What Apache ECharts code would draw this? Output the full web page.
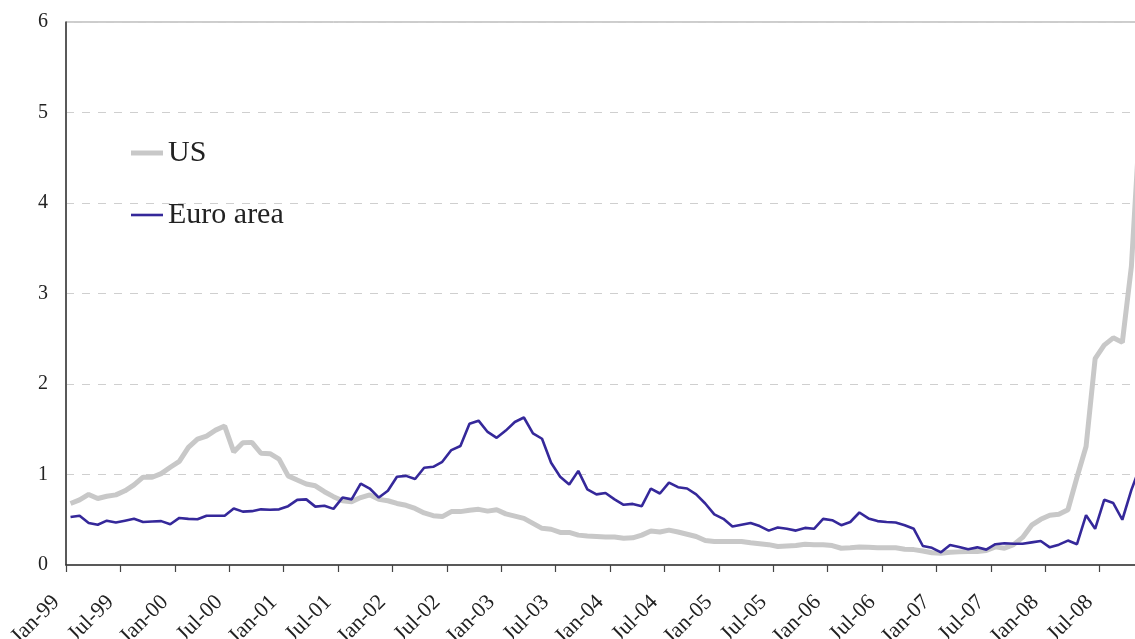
<!DOCTYPE html>
<html>
<head>
<meta charset="utf-8">
<script src="https://cdn.jsdelivr.net/npm/echarts@6/dist/echarts.min.js"></script>
<style>
html,body{margin:0;padding:0;background:#fff;overflow:hidden;}
#chart{width:1135px;height:639px;}
</style>
</head>
<body>
<div id="chart"></div>
<script>
const monthNames = ['Jan','Feb','Mar','Apr','May','Jun','Jul','Aug','Sep','Oct','Nov','Dec'];
function monthLabel(k){ return monthNames[k % 12] + '-' + String((99 + Math.floor(k / 12)) % 100).padStart(2, '0'); }

// Monthly categories Jan-99 .. Nov-08 (data points sit between tick marks)
const categories = [];
for (let k = 0; k < 119; k++) categories.push(monthLabel(k));
// Tick labels sit on the month boundaries
const tickLabels = [];
for (let k = 0; k < 120; k++) tickLabels.push(monthLabel(k));

const yTicks = [0, 1, 2, 3, 4, 5, 6];

const usValues = [
0.68,0.72,0.78,0.735,0.76,0.775,0.82,0.885,0.97,0.97,1.01,1.08,
1.145,1.30,1.39,1.425,1.49,1.535,1.25,1.35,1.355,1.235,1.23,1.17,
0.985,0.94,0.895,0.875,0.81,0.755,0.71,0.70,0.745,0.775,0.725,0.71,
0.68,0.66,0.625,0.575,0.545,0.535,0.59,0.59,0.605,0.615,0.595,0.61,
0.565,0.54,0.515,0.46,0.405,0.395,0.36,0.36,0.33,0.32,0.315,0.31,
0.31,0.295,0.30,0.33,0.375,0.365,0.385,0.365,0.34,0.315,0.27,0.26,
0.26,0.26,0.26,0.245,0.235,0.225,0.205,0.21,0.215,0.23,0.225,0.225,
0.215,0.185,0.19,0.20,0.195,0.19,0.19,0.19,0.175,0.17,0.155,0.135,
0.13,0.14,0.145,0.15,0.15,0.16,0.20,0.185,0.225,0.305,0.44,0.505,
0.55,0.56,0.61,0.97,1.31,2.28,2.43,2.51,2.46,3.3,5.0
];

const euroValues = [
0.53,0.545,0.465,0.445,0.49,0.47,0.49,0.51,0.475,0.48,0.485,0.45,
0.52,0.51,0.505,0.545,0.545,0.545,0.625,0.59,0.595,0.615,0.61,0.615,
0.65,0.72,0.725,0.645,0.655,0.62,0.745,0.725,0.90,0.845,0.745,0.82,
0.975,0.985,0.95,1.075,1.085,1.14,1.27,1.315,1.56,1.595,1.47,1.405,
1.485,1.58,1.63,1.455,1.395,1.13,0.975,0.89,1.04,0.835,0.78,0.795,
0.725,0.665,0.675,0.65,0.845,0.79,0.91,0.86,0.845,0.78,0.68,0.56,
0.51,0.425,0.445,0.465,0.43,0.38,0.415,0.40,0.38,0.41,0.40,0.51,
0.495,0.44,0.475,0.58,0.515,0.485,0.475,0.47,0.44,0.40,0.21,0.19,
0.14,0.22,0.20,0.175,0.195,0.17,0.23,0.24,0.235,0.235,0.25,0.265,
0.195,0.225,0.27,0.23,0.55,0.40,0.72,0.685,0.50,0.83,1.1
];

const serif = '"Liberation Serif", "DejaVu Serif", serif';
const usColor = '#c8c8c8';
const euroColor = '#35289a';
const chart = echarts.init(document.getElementById('chart'), null, {renderer: 'canvas'});
chart.setOption({
  animation: false,
  backgroundColor: '#fff',
  grid: {left: 66, top: 22, width: 1079, bottom: 74, outerBoundsMode: 'none', containLabel: false,
    show: true, borderColor: '#9a9a9a', borderWidth: 1, backgroundColor: 'transparent'},
  legend: [
    {
      left: 131, top: 138, padding: 0, itemWidth: 32, itemHeight: 5, icon: 'rect',
      textStyle: {fontFamily: serif, fontSize: 30, color: '#222'},
      data: [{name: 'US', itemStyle: {color: usColor}}]
    },
    {
      left: 131, top: 200, padding: 0, itemWidth: 32, itemHeight: 2.6, icon: 'rect',
      textStyle: {fontFamily: serif, fontSize: 30, color: '#222'},
      data: [{name: 'Euro area', itemStyle: {color: euroColor}}]
    }
  ],
  xAxis: [
    {
      type: 'category', data: categories, boundaryGap: true, position: 'bottom',
      axisLine: {show: true, lineStyle: {color: '#333', width: 1.5}},
      axisTick: {show: true, interval: 5, length: 7, lineStyle: {color: '#444', width: 1.2}},
      axisLabel: {show: false},
      splitLine: {show: false}
    },
    {
      type: 'category', data: tickLabels, boundaryGap: false, position: 'bottom',
      axisLine: {show: false}, axisTick: {show: false}, splitLine: {show: false},
      axisLabel: {show: true, interval: 5, rotate: 45, margin: 24, padding: [0, 14, 6, 0],
        fontFamily: serif, fontSize: 22, color: '#222'}
    }
  ],
  yAxis: {
    type: 'value', min: 0, max: 6, interval: 1,
    axisLine: {show: true, lineStyle: {color: '#333', width: 1.5}},
    axisTick: {show: false},
    axisLabel: {fontFamily: serif, fontSize: 20, color: '#222', margin: 18,
      formatter: function (v) { return yTicks.indexOf(v) >= 0 ? String(v) : ''; }},
    splitLine: {show: true, lineStyle: {color: '#cfcfcf', type: [8, 8], width: 1}}
  },
  series: [
    {name: 'US', type: 'line', data: usValues, xAxisIndex: 0, symbol: 'none', smooth: false,
      lineStyle: {color: usColor, width: 5}, itemStyle: {color: usColor}, z: 2},
    {name: 'Euro area', type: 'line', data: euroValues, xAxisIndex: 0, symbol: 'none', smooth: false,
      lineStyle: {color: euroColor, width: 2.6}, itemStyle: {color: euroColor}, z: 3}
  ]
});
</script>
</body>
</html>
